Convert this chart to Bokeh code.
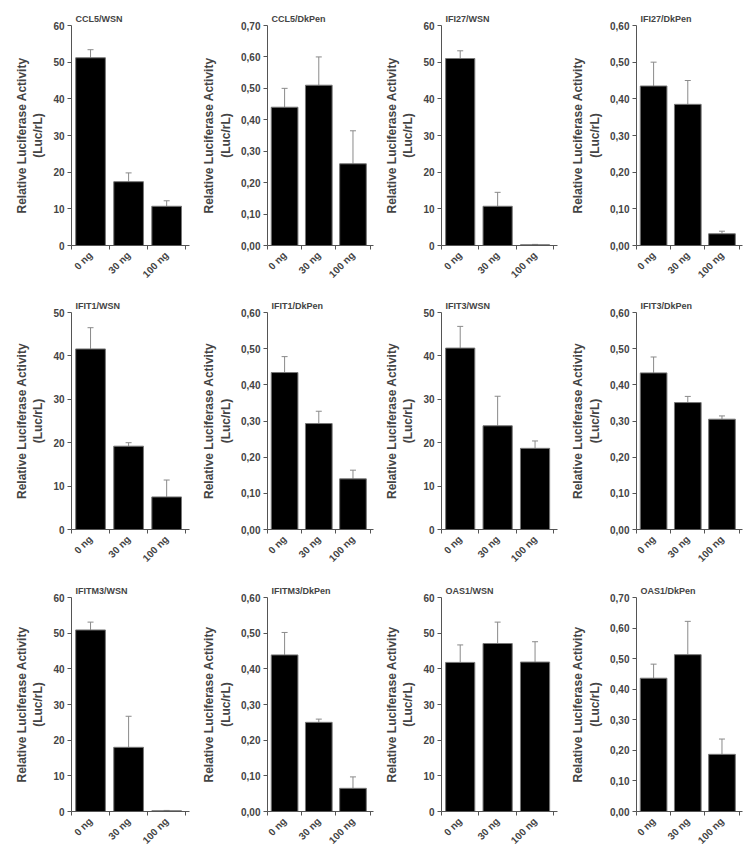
import math
from bokeh.plotting import figure
from bokeh.models import FixedTicker, Whisker, TeeHead, ColumnDataSource, Range1d, Title
from bokeh.layouts import gridplot
from bokeh.embed import file_html
from bokeh.resources import INLINE

categories = ["0 ng", "30 ng", "100 ng"]

titles = ["CCL5/WSN", "CCL5/DkPen", "IFI27/WSN", "IFI27/DkPen",
          "IFIT1/WSN", "IFIT1/DkPen", "IFIT3/WSN", "IFIT3/DkPen",
          "IFITM3/WSN", "IFITM3/DkPen", "OAS1/WSN", "OAS1/DkPen"]

ccl5_wsn = [51.2, 17.4, 10.7]
ccl5_wsn_err = [2.2, 2.4, 1.5]
ccl5_dkpen = [0.44, 0.51, 0.26]
ccl5_dkpen_err = [0.06, 0.09, 0.105]
ifi27_wsn = [51.0, 10.7, 0.2]
ifi27_wsn_err = [2.1, 3.8, 0.1]
ifi27_dkpen = [0.435, 0.385, 0.032]
ifi27_dkpen_err = [0.065, 0.065, 0.007]
ifit1_wsn = [41.6, 19.2, 7.5]
ifit1_wsn_err = [4.9, 0.8, 3.9]
ifit1_dkpen = [0.434, 0.293, 0.140]
ifit1_dkpen_err = [0.044, 0.034, 0.024]
ifit3_wsn = [41.8, 23.9, 18.7]
ifit3_wsn_err = [5.0, 6.8, 1.7]
ifit3_dkpen = [0.433, 0.351, 0.305]
ifit3_dkpen_err = [0.044, 0.017, 0.009]
ifitm3_wsn = [50.9, 18.0, 0.2]
ifitm3_wsn_err = [2.2, 8.7, 0.1]
ifitm3_dkpen = [0.439, 0.250, 0.065]
ifitm3_dkpen_err = [0.063, 0.009, 0.032]
oas1_wsn = [41.8, 47.1, 41.9]
oas1_wsn_err = [4.9, 6.0, 5.7]
oas1_dkpen = [0.436, 0.513, 0.187]
oas1_dkpen_err = [0.046, 0.109, 0.05]

ticks_60 = [0, 10, 20, 30, 40, 50, 60]
ticks_50 = [0, 10, 20, 30, 40, 50]
ticks_070 = [0.0, 0.1, 0.2, 0.3, 0.4, 0.5, 0.6, 0.7]
ticks_060 = [0.0, 0.1, 0.2, 0.3, 0.4, 0.5, 0.6]

panels = [
    (ccl5_wsn, ccl5_wsn_err, ticks_60, False),
    (ccl5_dkpen, ccl5_dkpen_err, ticks_070, True),
    (ifi27_wsn, ifi27_wsn_err, ticks_60, False),
    (ifi27_dkpen, ifi27_dkpen_err, ticks_060, True),
    (ifit1_wsn, ifit1_wsn_err, ticks_50, False),
    (ifit1_dkpen, ifit1_dkpen_err, ticks_060, True),
    (ifit3_wsn, ifit3_wsn_err, ticks_50, False),
    (ifit3_dkpen, ifit3_dkpen_err, ticks_060, True),
    (ifitm3_wsn, ifitm3_wsn_err, ticks_60, False),
    (ifitm3_dkpen, ifitm3_dkpen_err, ticks_060, True),
    (oas1_wsn, oas1_wsn_err, ticks_60, False),
    (oas1_dkpen, oas1_dkpen_err, ticks_070, True),
]

col_left = [71, 63, 63, 63]
col_w = [199, 179, 190, 180]
frame_w = [118, 111, 116, 111]
row_top = [25, 17, 17]
row_h = [295, 285, 272]
frame_h = [220, 217, 218]
FONT = "Liberation Sans"
AXIS_COL = "#555555"


def make(i):
    r, c = divmod(i, 4)
    means, errs, yt, comma = panels[i]
    p = figure(width=col_w[c], height=row_h[r], output_backend="svg", toolbar_location=None,
               x_range=Range1d(0, 3.1), y_range=Range1d(0, yt[-1]),
               min_border_left=col_left[c], min_border_right=col_w[c] - col_left[c] - frame_w[c],
               min_border_top=row_top[r], min_border_bottom=row_h[r] - row_top[r] - frame_h[r])
    p.title = Title(text=titles[i], align="left", offset=4, standoff=3,
                    text_font_size="9px", text_font=FONT, text_font_style="bold",
                    text_color="#444444")
    xs = [k + 0.5 for k in range(len(categories))]
    src = ColumnDataSource(dict(x=xs, top=means,
                                upper=[m + e for m, e in zip(means, errs)]))
    p.vbar(x="x", top="top", width=0.78, source=src, fill_color="black",
           line_color="#777777", line_width=1)
    p.add_layout(Whisker(source=src, base="x", lower="top", upper="upper",
                         line_color="#8a8a8a", line_width=1,
                         upper_head=TeeHead(size=6, line_color="#8a8a8a", line_width=1),
                         lower_head=None))
    p.xgrid.visible = False
    p.ygrid.visible = False
    p.outline_line_color = None

    xa = p.xaxis[0]
    xa.ticker = FixedTicker(ticks=xs, minor_ticks=[0, 1, 2, 3])
    xa.major_label_overrides = {x: lab for x, lab in zip(xs, categories)}
    xa.major_label_orientation = math.pi / 4
    xa.major_tick_out = 0
    xa.major_tick_in = 0
    xa.minor_tick_out = 4
    xa.minor_tick_in = 0
    xa.major_label_standoff = 4
    xa.major_label_text_font = FONT
    xa.major_label_text_font_style = "bold"
    xa.major_label_text_font_size = "10px"
    xa.axis_line_color = AXIS_COL
    xa.minor_tick_line_color = AXIS_COL

    ya = p.yaxis[0]
    ya.ticker = FixedTicker(ticks=yt)
    if comma:
        ya.major_label_overrides = {t: f"{t:.2f}".replace(".", ",") for t in yt}
    else:
        ya.major_label_overrides = {t: str(t) for t in yt}
    ya.major_tick_out = 4
    ya.major_tick_in = 0
    ya.minor_tick_line_color = None
    ya.major_label_standoff = 3
    ya.major_label_text_font = FONT
    ya.major_label_text_font_style = "bold"
    ya.major_label_text_font_size = "10px"
    ya.axis_line_color = AXIS_COL
    ya.major_tick_line_color = AXIS_COL
    ya.axis_label = "Relative Luciferase Activity\n(Luc/rL)"
    ya.axis_label_text_font = FONT
    ya.axis_label_text_font_style = "bold"
    ya.axis_label_text_font_size = "12px"
    ya.axis_label_standoff = 5
    return p


figs = [make(i) for i in range(12)]
grid = gridplot([figs[0:4], figs[4:8], figs[8:12]], toolbar_location=None)

open("out.html", "w").write(file_html(grid, INLINE))
